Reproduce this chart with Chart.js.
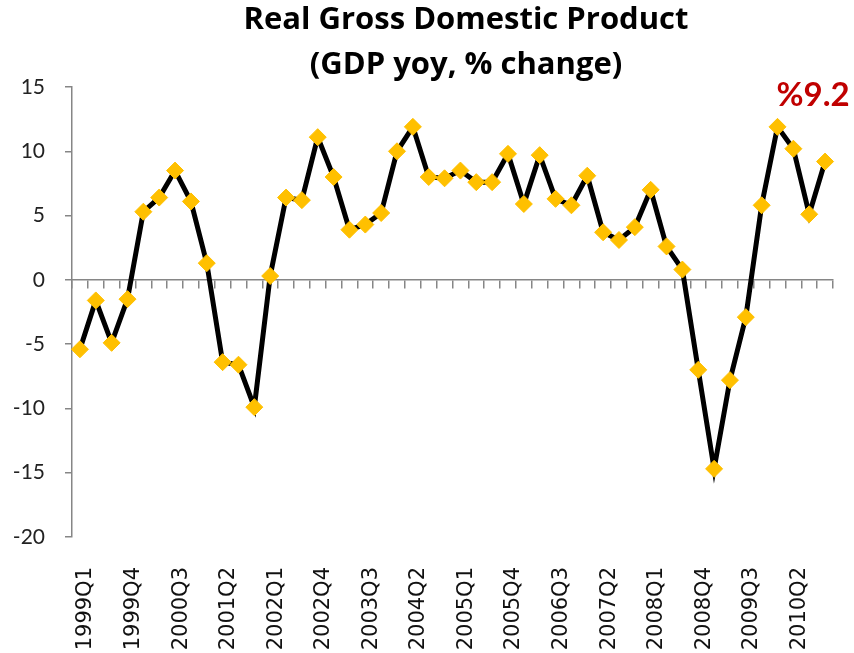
<!DOCTYPE html>
<html>
<head>
<meta charset="utf-8">
<script src="https://cdn.jsdelivr.net/npm/chart.js"></script>
<style>
  html, body { margin: 0; padding: 0; background: #fff; }
  #wrap { width: 854px; height: 653px; }
</style>
</head>
<body>
<div id="wrap"><canvas id="gdpChart" width="854" height="653"></canvas></div>
<script>
// quarters on the x axis
const quarters = [
  "1999Q1", "1999Q2", "1999Q3", "1999Q4",
  "2000Q1", "2000Q2", "2000Q3", "2000Q4",
  "2001Q1", "2001Q2", "2001Q3", "2001Q4",
  "2002Q1", "2002Q2", "2002Q3", "2002Q4",
  "2003Q1", "2003Q2", "2003Q3", "2003Q4",
  "2004Q1", "2004Q2", "2004Q3", "2004Q4",
  "2005Q1", "2005Q2", "2005Q3", "2005Q4",
  "2006Q1", "2006Q2", "2006Q3", "2006Q4",
  "2007Q1", "2007Q2", "2007Q3", "2007Q4",
  "2008Q1", "2008Q2", "2008Q3", "2008Q4",
  "2009Q1", "2009Q2", "2009Q3", "2009Q4",
  "2010Q1", "2010Q2", "2010Q3", "2010Q4"
];

// GDP yoy % change
const gdpYoy = [
  -5.4, -1.6, -4.9, -1.5,
  5.3, 6.4, 8.5, 6.1,
  1.3, -6.4, -6.6, -9.9,
  0.3, 6.4, 6.2, 11.1,
  8.0, 3.9, 4.3, 5.2,
  10.0, 11.9, 8.0, 7.9,
  8.5, 7.6, 7.6, 9.8,
  5.9, 9.7, 6.3, 5.8,
  8.1, 3.7, 3.1, 4.1,
  7.0, 2.6, 0.8, -7.0,
  -14.7, -7.8, -2.9, 5.8,
  11.9, 10.2, 5.1, 9.2
];

// labels written under the axis
const shownQuarters = [
  "1999Q1", "1999Q4", "2000Q3", "2001Q2", "2002Q1", "2002Q4", "2003Q3", "2004Q2",
  "2005Q1", "2005Q4", "2006Q3", "2007Q2", "2008Q1", "2008Q4", "2009Q3", "2010Q2"
];

const yTicks = [-20, -15, -10, -5, 0, 5, 10, 15];
const lastLabel = "%9.2";

// red note above the last point
const lastNote = {
  id: "lastNote",
  afterDatasetsDraw(chart) {
    const meta = chart.getDatasetMeta(0);
    const pt = meta.data[meta.data.length - 1];
    const ctx = chart.ctx;
    ctx.save();
    ctx.font = "bold 33px Lato";
    ctx.fillStyle = "#C00000";
    ctx.textAlign = "center";
    ctx.textBaseline = "alphabetic";
    ctx.fillText(lastLabel, pt.x - 12, pt.y - 56);
    ctx.restore();
  }
};

// the title sits right of the canvas centre in the original
const titleShift = {
  id: "titleShift",
  afterLayout(chart) {
    chart.titleBlock.left += 99;
  }
};

const ctx = document.getElementById("gdpChart").getContext("2d");
new Chart(ctx, {
  type: "line",
  data: {
    labels: quarters,
    datasets: [
      {
        label: "GDP yoy",
        data: gdpYoy,
        borderColor: "#000000",
        borderWidth: 5,
        tension: 0,
        pointStyle: "rectRot",
        pointRadius: 8.5,
        pointBackgroundColor: "#FFC000",
        pointBorderColor: "#FFC000",
        pointBorderWidth: 1,
      },
    ],
  },
  plugins: [lastNote, titleShift],
  options: {
    responsive: false,
    animation: false,
    layout: { padding: { left: 0, right: 21, top: 0, bottom: 0 } },
    plugins: {
      legend: { display: false },
      tooltip: { enabled: false },
      title: {
        display: true,
        text: ["Real Gross Domestic Product", "(GDP yoy, % change)"],
        color: "#000",
        font: { family: "Open Sans", size: 31, weight: "bold", lineHeight: "45px" },
        padding: { top: -2.5, bottom: -0.5 },
      },
    },
    scales: {
      x: {
        position: "bottom",
        offset: true,
        border: { display: false },
        grid: { display: false },
        ticks: {
          autoSkip: false,
          minRotation: 90,
          maxRotation: 90,
          padding: 22,
          labelOffset: 6,
          color: "#111",
          font: { family: "DejaVu Sans", size: 21 },
          callback: function (value) {
            const q = this.getLabelForValue(value);
            return shownQuarters.includes(q) ? q : "";
          },
        },
        afterFit(scale) {
          scale.height = 116;
          scale.paddingLeft = 0;
          scale.paddingRight = 0;
        },
      },
      xZero: {
        type: "category",
        axis: "x",
        position: { y: 0 },
        offset: true,
        border: { display: true, color: "#868686", width: 1.5 },
        grid: {
          offset: true,
          drawOnChartArea: false,
          drawTicks: true,
          tickLength: 8,
          color: "#868686",
          lineWidth: 1.5,
        },
        ticks: { display: false },
        afterFit(scale) {
          scale.height = 0;
          scale.paddingLeft = 0;
          scale.paddingRight = 0;
        },
      },
      y: {
        min: -20,
        max: 15,
        border: { display: true, color: "#868686", width: 1.5 },
        grid: {
          drawOnChartArea: false,
          drawTicks: true,
          tickLength: 7,
          color: "#868686",
          lineWidth: 1.5,
        },
        afterBuildTicks(scale) {
          scale.ticks = yTicks.map((v) => ({ value: v }));
        },
        ticks: {
          padding: 20,
          color: "#222",
          font: { family: "Lato", size: 21 },
        },
        afterFit(scale) { scale.width = 72; },
      },
    },
  },
});
</script>
</body>
</html>
